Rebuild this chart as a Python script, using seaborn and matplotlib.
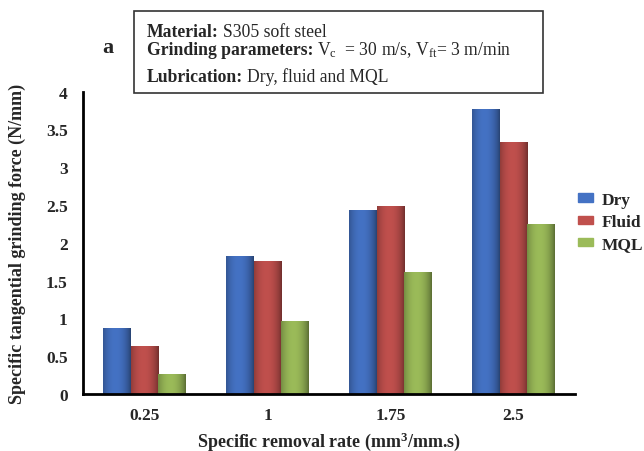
import numpy as np
import pandas as pd
import matplotlib
matplotlib.use("Agg")
import matplotlib.pyplot as plt
import seaborn as sns
from matplotlib.patches import Patch
from matplotlib.colors import to_rgb

rates = ["0.25", "1", "1.75", "2.5"]
dry = [0.88, 1.83, 2.44, 3.77]
fluid = [0.63, 1.76, 2.49, 3.34]
mql = [0.27, 0.96, 1.61, 2.25]
series = ["Dry", "Fluid", "MQL"]
colors = {"Dry": "#4472C4", "Fluid": "#C0504D", "MQL": "#9BBB59"}

header_bold = ["Material:", "Grinding parameters:", "Lubrication:"]
header_text = ["S305 soft steel",
               r"V$_{\mathrm{c}}$  = 30 m/s, V$_{\mathrm{ft}}$= 3 m/min",
               "Dry, fluid and MQL"]

df = pd.DataFrame({
    "rate": rates * 3,
    "force": dry + fluid + mql,
    "lub": [s for s in series for _ in rates],
})

sns.set_theme(style="white")
plt.rcParams["font.family"] = ["Liberation Serif", "DejaVu Serif"]
plt.rcParams["mathtext.fontset"] = "custom"
plt.rcParams["mathtext.rm"] = "Liberation Serif"
plt.rcParams["mathtext.bf"] = "Liberation Serif:bold"
plt.rcParams["mathtext.it"] = "Liberation Serif:italic"

fig = plt.figure(figsize=(6.44, 4.52), dpi=100)
ax = fig.add_axes([0.129, 0.126, 0.764, 0.669])

sns.barplot(data=df, x="rate", y="force", hue="lub", order=rates,
            hue_order=series, palette=colors, width=0.67, ax=ax,
            legend=False, saturation=1, edgecolor="none")

# cylinder-like shading on each bar
for patch in ax.patches:
    x0, y0 = patch.get_x(), patch.get_y()
    w, h = patch.get_width(), patch.get_height()
    base = np.array(to_rgb(patch.get_facecolor()))
    t = np.linspace(0, 1, 64)
    shade = 0.45 + 0.55 * np.clip(np.sin(np.pi * (t * 0.85 + 0.12)), 0, 1) ** 0.6
    img = np.clip(base[None, None, :] * shade[None, :, None], 0, 1)
    im = ax.imshow(img, extent=[x0, x0 + w, y0, y0 + h], aspect="auto",
                   zorder=patch.get_zorder() + 0.1, interpolation="bilinear")
    im.set_clip_path(patch)

ax.set_xlim(-0.5, 3.5)
ax.set_ylim(0, 4)
ax.set_yticks(np.arange(0, 4.01, 0.5))
ax.set_yticklabels(["0", "0.5", "1", "1.5", "2", "2.5", "3", "3.5", "4"],
                   fontweight="bold", fontsize=12.5)
ax.set_xticks(np.arange(-0.5, 3.6, 1.0))
ax.set_xticklabels([])
ax.set_xticks(np.arange(4), minor=True)
ax.set_xticklabels(rates, minor=True, fontweight="bold", fontsize=12.5)
ax.tick_params(axis="x", which="minor", length=0, pad=9)
ax.tick_params(axis="x", which="major", direction="out", length=4, width=2, color="black")
ax.tick_params(axis="y", direction="out", length=4, width=1.5, color="black", pad=7)
sns.despine(ax=ax)
for s in ["left", "bottom"]:
    ax.spines[s].set_color("black")
    ax.spines[s].set_linewidth(2)

ax.set_xlabel("Specific removal rate (mm$^\\mathbf{3}$/mm.s)", fontweight="bold",
              fontsize=13, labelpad=5)
ax.set_ylabel("Specific tangential grinding force (N/mm)", fontweight="bold",
              fontsize=13)
ax.yaxis.set_label_coords(-0.117, 0.5)

handles = [Patch(facecolor=colors[s], edgecolor=colors[s]) for s in series]
leg = fig.legend(handles, series, loc="center left", bbox_to_anchor=(0.8975, 0.507),
                 frameon=False, handlelength=0.86, handleheight=0.35,
                 prop={"weight": "bold", "size": 12.5}, labelspacing=0.35,
                 handletextpad=0.5, borderpad=0, borderaxespad=0)

# header box
fig.text(0.158, 0.894, "a", fontsize=16, fontweight="bold", va="center")
box = plt.Rectangle((0.208, 0.7914), 0.635, 0.1814, transform=fig.transFigure,
                    facecolor="white", edgecolor="#333333", linewidth=1.2)
fig.patches.append(box)
ys = [0.919, 0.878, 0.818]
fig.canvas.draw()
renderer = fig.canvas.get_renderer()
for y, b, t in zip(ys, header_bold, header_text):
    tb = fig.text(0.228, y, b, fontsize=12.7, fontweight="bold", va="baseline")
    bb = tb.get_window_extent(renderer=renderer)
    x_next = (bb.x1 + 4) / fig.bbox.width
    fig.text(x_next, y, t, fontsize=12.7, va="baseline")

fig.savefig("out.png", dpi=100)
